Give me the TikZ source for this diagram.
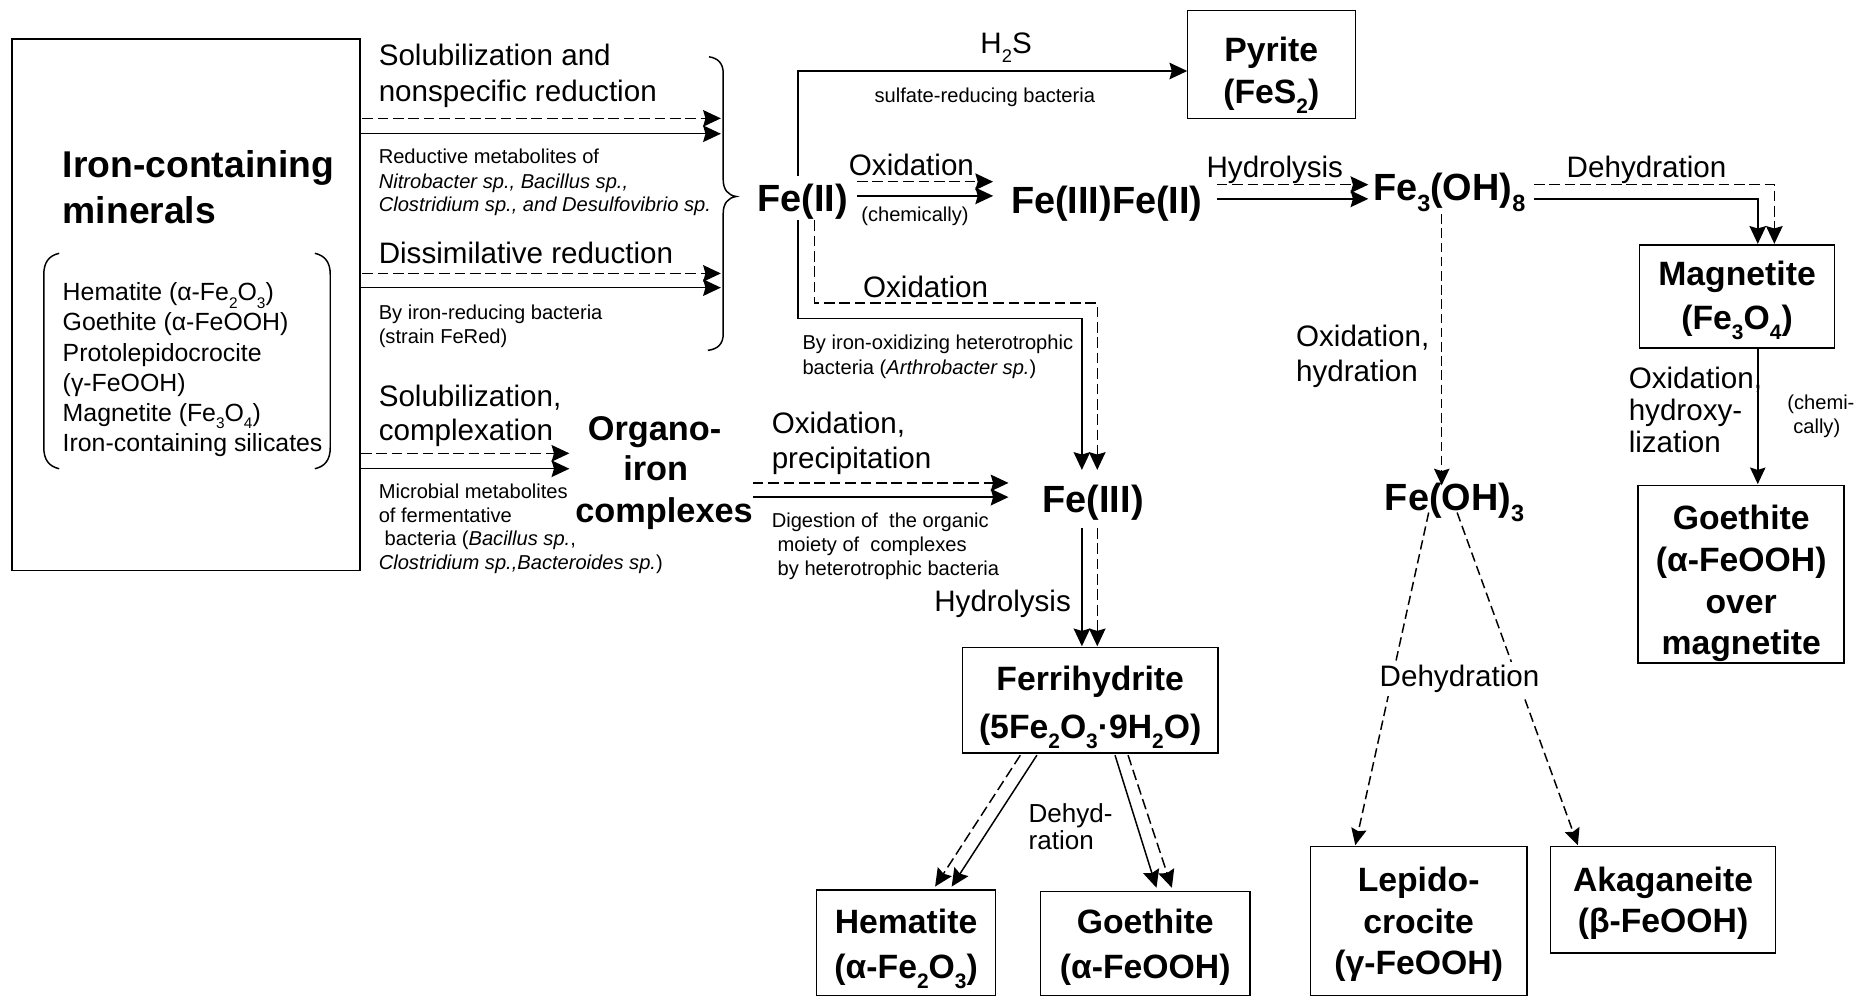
\documentclass[tikz,border=0pt]{standalone}
\usepackage{fontspec}
\usepackage{graphicx}
\setmainfont{Liberation Sans}
\usetikzlibrary{arrows.meta}
\newcommand{\sbs}[1]{\raisebox{-0.3em}{\scalebox{0.62}{#1}}}
\begin{document}
\begin{tikzpicture}[x=1pt,y=-1pt,
  every node/.style={inner sep=0pt, outer sep=0pt},
  ln/.style={line width=1.25pt},
  sarr/.style={ln, -{Stealth[length=15pt,width=14pt,inset=2pt]}},
  darr/.style={sarr, dash pattern=on 9pt off 4pt},
  sarr1/.style={ln, -{Stealth[length=14pt,width=13pt,inset=2pt]}},
  darr1/.style={sarr1, dash pattern=on 8pt off 4pt},
  lab/.style={font=\fontsize{25}{30}\selectfont, anchor=base west},
  sm/.style={font=\fontsize{17}{21}\selectfont, anchor=base west},
  chem/.style={font=\fontsize{32}{38}\selectfont\bfseries, anchor=base},
  ttl/.style={font=\fontsize{31.5}{38}\selectfont\bfseries, anchor=base west},
  lst/.style={font=\fontsize{21}{25}\selectfont, anchor=base west},
  org/.style={font=\fontsize{29}{34}\selectfont\bfseries, anchor=base},
  box/.style={draw, line width=1.25pt},
  boxtxt/.style={align=center, font=\fontsize{28.5}{36}\selectfont\bfseries},
]
\useasboundingbox (0,0) rectangle (1568,842);

% ---------- main box ----------
\node[draw, line width=1.25pt, minimum width=294pt, minimum height=449pt] (minbox) at (157,257.5) {};
\node[ttl] (t1) at (53,150) {Iron-containing};
\node[ttl] (t2) at (53,189) {minerals};
\node[lst] (l1) at (53,254) {Hematite (α-Fe\sbs{2}O\sbs{3})};
\node[lst] (l2) at (53,279.5) {Goethite (α-FeOOH)};
\node[lst] (l3) at (53,305) {Protolepidocrocite};
\node[lst] (l4) at (53,330.5) {(γ-FeOOH)};
\node[lst] (l5) at (53,356) {Magnetite (Fe\sbs{3}O\sbs{4})};
\node[lst] (l6) at (53,381.5) {Iron-containing silicates};
\draw[ln] (50,214) .. controls (41,216) and (37,222) .. (37,232) -- (37,378) .. controls (37,388) and (41,394) .. (50,396);
\draw[ln] (266,214) .. controls (275,216) and (279,222) .. (279,232) -- (279,378) .. controls (279,388) and (275,394) .. (266,396);

% ---------- group 1 ----------
\node[lab] (s1) at (320,55) {Solubilization and};
\node[lab] (s2) at (320,86) {nonspecific reduction};
\coordinate (g1da) at (306,100); \coordinate (g1db) at (609,100);
\coordinate (g1sa) at (304,113); \coordinate (g1sb) at (609,113);
\draw[darr] (g1da) -- (g1db);
\draw[sarr] (g1sa) -- (g1sb);
\node[sm] (r1) at (320,138) {Reductive metabolites of};
\node[sm] (r2) at (320,159) {\itshape Nitrobacter sp., Bacillus sp.,};
\node[sm] (r3) at (320,179) {\itshape Clostridium sp., and Desulfovibrio sp.};
\node[lab] (dis) at (320,223) {Dissimilative reduction};
\coordinate (g2da) at (306,231); \coordinate (g2db) at (609,231);
\coordinate (g2sa) at (304,243); \coordinate (g2sb) at (609,243);
\draw[darr] (g2da) -- (g2db);
\draw[sarr] (g2sa) -- (g2sb);
\node[sm] (b1) at (320,270) {By iron-reducing bacteria};
\node[sm] (b2) at (320,290) {(strain FeRed)};
\draw[ln] (599,48) .. controls (606,49) and (611,53) .. (611,62) -- (611,152) .. controls (611,160) and (615,165) .. (622,166) .. controls (615,167) and (611,172) .. (611,180) -- (611,282) .. controls (611,291) and (606,295) .. (598,296);

% ---------- group 3 ----------
\node[lab] (c1) at (320,343) {Solubilization,};
\node[lab] (c2) at (320,372) {complexation};
\coordinate (g3da) at (305,383); \coordinate (g3db) at (481,383);
\coordinate (g3sa) at (304,396); \coordinate (g3sb) at (481,396);
\draw[darr] (g3da) -- (g3db);
\draw[sarr] (g3sa) -- (g3sb);
\node[sm] (m1) at (320,421) {Microbial metabolites};
\node[sm] (m2) at (320,441) {of fermentative};
\node[sm] (m3) at (325,461) {bacteria (\textit{Bacillus sp.},};
\node[sm] (m4) at (320,481) {\textit{Clostridium sp.,Bacteroides sp.})};
\node[org] (o1) at (553,372) {Organo-};
\node[org] (o2) at (554,406) {iron};
\node[org] (o3) at (561,441) {complexes};

% ---------- Fe(II) ----------
\node[chem] (fe2) at (678,178.5) {Fe(II)};
\node[lab, anchor=base] (h2s) at (850,45) {H\sbs{2}S};
\node[sm, anchor=base] (srb) at (832,87) {sulfate-reducing bacteria};
\node[box, minimum width=142pt, minimum height=91pt] (pyr) at (1074,54.5) {};
\node[boxtxt] (pyrt) at ([yshift=-9pt]pyr.center) {Pyrite\\(FeS\sbs{2})};
\coordinate (fe2up) at (674,149); \coordinate (pyin) at (1003,60);
\draw[sarr] (fe2up) |- (pyin);

\coordinate (oxda) at (724,153.5); \coordinate (oxdb) at (839,153.5);
\coordinate (oxsa) at (724,165.5); \coordinate (oxsb) at (839,165.5);
\draw[darr] (oxda) -- (oxdb);
\draw[sarr] (oxsa) -- (oxsb);
\node[lab, anchor=base] (ox1) at (770,148) {Oxidation};
\node[sm, anchor=base] (chm) at (773,187) {(chemically)};
\node[chem] (fe32) at (935,180.5) {Fe(III)Fe(II)};

\coordinate (hyda) at (1028,156); \coordinate (hydb) at (1156,156);
\coordinate (hysa) at (1028,168); \coordinate (hysb) at (1156,168);
\draw[darr] (hyda) -- (hydb);
\draw[sarr] (hysa) -- (hysb);
\node[lab, anchor=base] (hy1) at (1077,150) {Hydrolysis};
\node[chem, anchor=base west] (fe3oh8) at (1160,169) {Fe\sbs{3}(OH)\sbs{8}};

% ---------- Dehydration -> Magnetite ----------
\coordinate (dhda) at (1296,156); \coordinate (dhdb) at (1499,206);
\coordinate (dhsa) at (1296,168); \coordinate (dhsb) at (1485,206);
\draw[darr] (dhda) -| (dhdb);
\draw[sarr] (dhsa) -| (dhsb);
\node[lab, anchor=base] (dh1) at (1391,150) {Dehydration};
\node[box, minimum width=165pt, minimum height=87pt] (mag) at (1467.5,250.5) {};
\node[boxtxt, font=\fontsize{28.5}{37}\selectfont\bfseries] (magt) at ([yshift=-3pt]mag.center) {Magnetite\\(Fe\sbs{3}O\sbs{4})};
\coordinate (mga) at (1485,294); \coordinate (mgb) at (1485,409);
\draw[sarr1] (mga) -- (mgb);
\node[lab] (oh1) at (1376,328) {Oxidation,};
\node[lab] (oh2) at (1376,355) {hydroxy-};
\node[lab] (oh3) at (1376,382) {lization};
\node[sm] (ch1) at (1510,346) {(chemi-};
\node[sm] (ch2) at (1515,366) {cally)};
\node[box, minimum width=174pt, minimum height=150pt] (gom) at (1471,485) {};
\node[boxtxt, font=\fontsize{28.5}{35.3}\selectfont\bfseries] (gomt) at ([yshift=-8pt]gom.center) {Goethite\\(α-FeOOH)\\over\\magnetite};

% ---------- Fe(OH)3 ----------
\coordinate (fva) at (1218,181); \coordinate (fvb) at (1218,410);
\draw[darr1] (fva) -- (fvb);
\node[lab] (hd1) at (1095,293) {Oxidation,};
\node[lab] (hd2) at (1095,322) {hydration};
\node[chem, anchor=base west] (feoh3) at (1170,431) {Fe(OH)\sbs{3}};
\coordinate (lpa) at (1207,433); \coordinate (lpb) at (1145,714);
\coordinate (aka) at (1231,433); \coordinate (akb) at (1333,714);
\draw[darr1] (lpa) -- (lpb);
\draw[darr1] (aka) -- (akb);
\node[lab, anchor=base, fill=white, inner sep=3pt] (dh2) at (1233,580) {Dehydration};
\node[box, minimum width=183pt, minimum height=126pt] (lep) at (1198.5,778) {};
\node[boxtxt, font=\fontsize{28.5}{35}\selectfont\bfseries] (lept) at ([yshift=-3pt]lep.center) {Lepido-\\crocite\\(γ-FeOOH)};
\node[box, minimum width=190pt, minimum height=90pt] (akg) at (1405,760) {};
\node[boxtxt, font=\fontsize{28.5}{35}\selectfont\bfseries] (akgt) at ([yshift=-3pt]akg.center) {Akaganeite\\(β-FeOOH)};

% ---------- Fe(II) -> Fe(III) ----------
\coordinate (fsa) at (674,186); \coordinate (fsb) at (914,269); \coordinate (fsc) at (914,397);
\coordinate (fda) at (688,186); \coordinate (fdb) at (927,256); \coordinate (fdc) at (927,397);
\draw[sarr] (fsa) |- (fsb) -- (fsc);
\draw[darr] (fda) |- (fdb) -- (fdc);
\node[lab, anchor=base] (ox2) at (782,251) {Oxidation};
\node[sm] (io1) at (678,295) {By iron-oxidizing heterotrophic};
\node[sm] (io2) at (678,316) {bacteria (\textit{Arthrobacter sp.})};

% ---------- Organo -> Fe(III) ----------
\coordinate (opda) at (636,408); \coordinate (opdb) at (852,408);
\coordinate (opsa) at (636,420); \coordinate (opsb) at (852,420);
\draw[darr] (opda) -- (opdb);
\draw[sarr] (opsa) -- (opsb);
\node[lab] (op1) at (652,366) {Oxidation,};
\node[lab] (op2) at (652,396) {precipitation};
\node[sm] (dg1) at (652,446) {Digestion of \ the organic};
\node[sm] (dg2) at (657,466) {moiety of \ complexes};
\node[sm] (dg3) at (657,486) {by heterotrophic bacteria};
\node[chem] (fe3) at (923.5,433) {Fe(III)};

% ---------- Fe(III) -> Ferrihydrite ----------
\coordinate (frsa) at (914,446); \coordinate (frsb) at (914,546);
\coordinate (frda) at (927,446); \coordinate (frdb) at (927,546);
\draw[sarr] (frsa) -- (frsb);
\draw[darr] (frda) -- (frdb);
\node[lab, anchor=base] (hy2) at (847,517) {Hydrolysis};
\node[box, minimum width=216pt, minimum height=89pt] (fer) at (921,591.5) {};
\node[boxtxt, font=\fontsize{28.5}{41}\selectfont\bfseries] (fert) at ([yshift=-6pt]fer.center) {Ferrihydrite\\(5Fe\sbs{2}O\sbs{3}·9H\sbs{2}O)};

% ---------- Ferrihydrite -> Hematite / Goethite ----------
\coordinate (hmda) at (862,638); \coordinate (hmdb) at (790,749);
\coordinate (hmsa) at (876,638); \coordinate (hmsb) at (804,749);
\coordinate (gtsa) at (942,638); \coordinate (gtsb) at (977,750);
\coordinate (gtda) at (953,638); \coordinate (gtdb) at (990,750);
\draw[darr] (hmda) -- (hmdb);
\draw[sarr] (hmsa) -- (hmsb);
\draw[sarr] (gtsa) -- (gtsb);
\draw[darr] (gtda) -- (gtdb);
\node[font=\fontsize{22}{26}\selectfont, anchor=base west] (dd1) at (869,695) {Dehyd-};
\node[font=\fontsize{22}{26}\selectfont, anchor=base west] (dd2) at (869,718) {ration};
\node[box, minimum width=151pt, minimum height=89pt] (hem) at (765.5,796.5) {};
\node[boxtxt, font=\fontsize{28.5}{38}\selectfont\bfseries] (hemt) at ([yshift=-5pt]hem.center) {Hematite\\(α-Fe\sbs{2}O\sbs{3})};
\node[box, minimum width=177pt, minimum height=88pt] (goe) at (967.5,797) {};
\node[boxtxt, font=\fontsize{28.5}{38}\selectfont\bfseries] (goet) at ([yshift=-3pt]goe.center) {Goethite\\(α-FeOOH)};
\end{tikzpicture}
\end{document}
